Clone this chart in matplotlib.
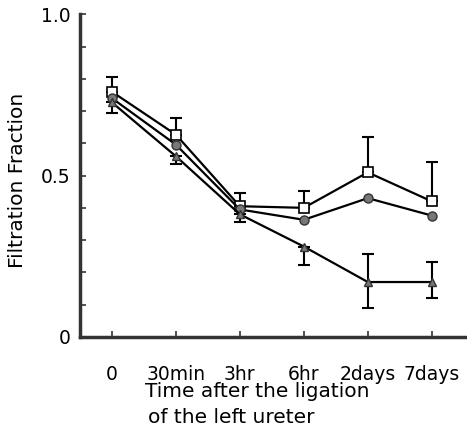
import matplotlib.pyplot as plt

# time points after ligation
labels = ["0", "30min", "3hr", "6hr", "2days", "7days"]

# filtration fraction, three groups
sq = [0.76, 0.627, 0.405, 0.40, 0.51, 0.42]
sq_up = [0.047, 0.053, 0.04, 0.053, 0.11, 0.123]

ci = [0.74, 0.596, 0.395, 0.363, 0.43, 0.376]

tri = [0.727, 0.56, 0.38, 0.28, 0.17, 0.17]
tri_lo = [0.032, 0.023, 0.023, 0.056, 0.08, 0.05]
tri_hi = [0, 0, 0, 0, 0.088, 0.063]

plt.rcParams['font.family'] = ['DejaVu Sans']

fig = plt.figure(figsize=(4.67, 4.33), dpi=100)
ax = fig.add_axes([0.171, 0.222, 0.829, 0.745])
x = list(range(len(labels)))

ax.errorbar(x, sq, yerr=[[0]*6, sq_up], fmt='none', ecolor='black',
            elinewidth=1.5, capsize=4, capthick=1.5)
ax.errorbar(x, tri, yerr=[tri_lo, tri_hi], fmt='none', ecolor='black',
            elinewidth=1.5, capsize=4, capthick=1.5)

ax.plot(x, sq, color='black', lw=1.6, marker='s', ms=7, mfc='white',
        mec='black', mew=1.2, zorder=3)
ax.plot(x, ci, color='black', lw=1.6, marker='o', ms=6.5, mfc='#777777',
        mec='#333333', mew=1, zorder=3)
ax.plot(x, tri, color='black', lw=1.6, marker='^', ms=6, mfc='#777777',
        mec='#333333', mew=1, zorder=3)

ax.set_xlim(-0.5, 5.55)
ax.set_ylim(0, 1.0)
ax.set_xticks(x)
ax.set_xticklabels(labels)
ax.set_yticks([i / 10 for i in range(11)])
ax.set_yticklabels(["0", "", "", "", "", "0.5", "", "", "", "", "1.0"])

for s in ['top', 'right']:
    ax.spines[s].set_visible(False)
for s in ['left', 'bottom']:
    ax.spines[s].set_linewidth(2.5)
    ax.spines[s].set_color('#333333')

ax.tick_params(axis='both', direction='in', length=4, width=1.2,
               labelsize=13.5, color='#333333')
ax.tick_params(axis='x', pad=20)
ax.tick_params(axis='y', pad=7)

fig.text(0.037, 0.584, "Filtration Fraction", rotation=90, fontsize=14.5,
         ha='center', va='center')
fig.text(0.31, 0.095, "Time after the ligation", fontsize=14.5,
         ha='left', va='center')
fig.text(0.317, 0.035, "of the left ureter", fontsize=14.5,
         ha='left', va='center')

fig.savefig("out.png", dpi=100)
